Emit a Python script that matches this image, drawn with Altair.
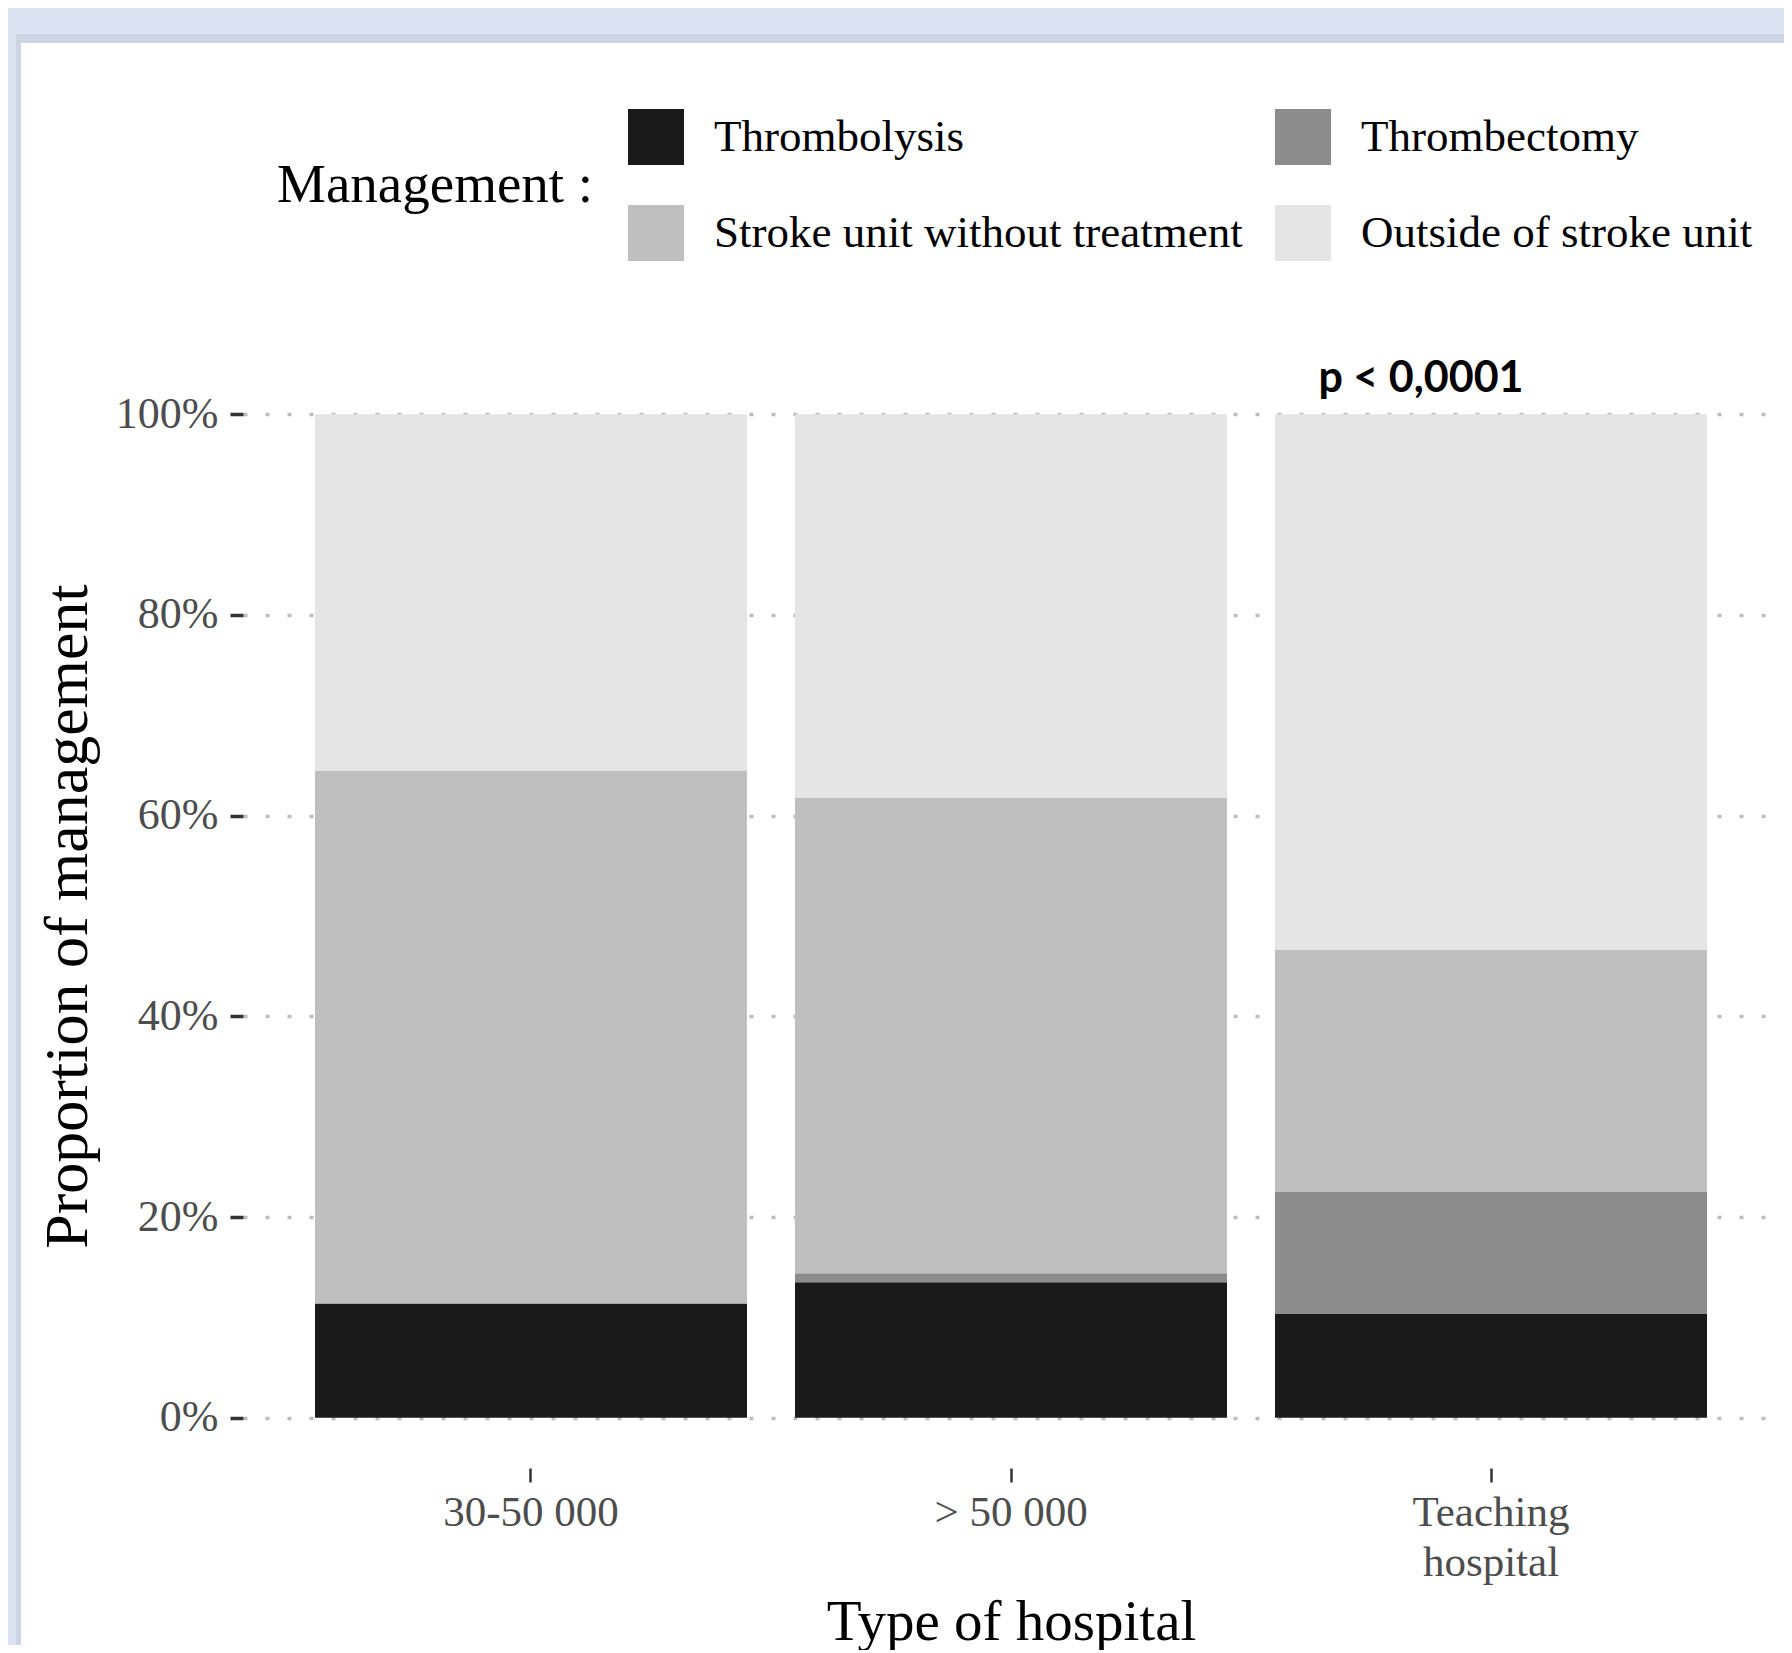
import altair as alt
import pandas as pd

# ---- data ----
hospitals = ["30-50 000", "> 50 000", "Teaching\nhospital"]
managements = ["Thrombolysis", "Thrombectomy", "Stroke unit without treatment", "Outside of stroke unit"]
colors = ["#1a1a1a", "#8c8c8c", "#bfbfbf", "#e5e5e5"]
thrombolysis = [0.114, 0.135, 0.104]
thrombectomy = [0.0, 0.009, 0.121]
stroke_unit = [0.531, 0.474, 0.241]
outside = [0.355, 0.382, 0.534]
y_ticks = [0, 0.2, 0.4, 0.6, 0.8, 1.0]
p_label = ["p < 0,0001"]

series = [thrombolysis, thrombectomy, stroke_unit, outside]
rows = []
for i, h in enumerate(hospitals):
    for k, m in enumerate(managements):
        rows.append({"hospital": h, "management": m, "ord": k, "value": series[k][i]})
df = pd.DataFrame(rows)

SERIF = "Liberation Serif"
W, H = 1536, 1104
BLUE = "#dbe3f2"
SHADOW = "#cdd5e5"

x_scale = alt.Scale(domain=hospitals, paddingInner=0.1, paddingOuter=0.15)
y_scale = alt.Scale(domain=[-0.05, 1.05], nice=False, zero=False)

bars = alt.Chart(df).mark_bar().encode(
    x=alt.X("hospital:N", scale=x_scale, sort=hospitals,
            axis=alt.Axis(title="Type of hospital", labelAngle=0,
                          labelExpr="split(datum.label, '\\n')",
                          labelFont=SERIF, labelFontSize=43, labelColor="#4d4d4d",
                          labelLineHeight=50, labelPadding=9, labelBaseline="top",
                          tickSize=14, tickWidth=2.5, tickColor="#333333",
                          domain=False, grid=False,
                          titleFont=SERIF, titleFontSize=57, titleFontWeight="normal",
                          titleColor="black", titleY=171, titleBaseline="alphabetic")),
    y=alt.Y("value:Q", stack="zero", scale=y_scale,
            axis=alt.Axis(values=y_ticks, format=".0%", title="Proportion of management",
                          grid=True, gridDash=[4, 18], gridColor="#bdbdbd", gridWidth=3.5,
                          tickSize=13, tickWidth=3.5, tickColor="#333333",
                          labelPadding=12, labelFont=SERIF, labelFontSize=44,
                          labelColor="#4d4d4d", domain=False,
                          titleFont=SERIF, titleFontSize=62, titleFontWeight="normal",
                          titleColor="black", titleX=-157, titleY=552, titleAngle=270,
                          titleAlign="center", titleBaseline="alphabetic")),
    color=alt.Color("management:N",
                    scale=alt.Scale(domain=managements, range=colors),
                    legend=alt.Legend(orient="none", legendX=34, legendY=-255,
                                      direction="horizontal", columns=2,
                                      title="Management :", titleOrient="left",
                                      titleAnchor="middle", titleBaseline="middle",
                                      titleFont=SERIF, titleFontSize=55, titleLimit=0,
                                      titleFontWeight="normal", titleColor="black",
                                      titlePadding=34,
                                      labelFont=SERIF, labelFontSize=45, labelColor="black",
                                      labelOffset=30, labelLimit=0,
                                      symbolType="square", symbolSize=3136,
                                      symbolStrokeWidth=0, symbolOpacity=1,
                                      rowPadding=40, columnPadding=32, padding=0)),
    order=alt.Order("ord:Q", sort="ascending"),
)

ptext = alt.Chart(pd.DataFrame({"hospital": [hospitals[2]], "label": p_label, "y": [1.0]})).mark_text(
    dx=-70, dy=-35, font="Lato", fontSize=43, fontWeight="bold", color="black",
    align="center", baseline="middle"
).encode(
    x=alt.X("hospital:N", scale=x_scale, sort=hospitals),
    y=alt.Y("y:Q", scale=y_scale),
    text="label:N",
)

# ---- decorative page frame (light-blue border of the slide) ----
def strip(x0, x1, y0, y1, fill):
    return alt.Chart(alt.Data(values=[{"a": 1}])).mark_rect(fill=fill, strokeWidth=0).encode(
        x=alt.value(x0), x2=alt.value(x1), y=alt.value(y0), y2=alt.value(y1)
    )

frame = (
    strip(-235, 1541, -356, -321, BLUE)
    + strip(-235, -222, -356, 1281, BLUE)
    + strip(-226, 1541, -330, -321, SHADOW)
    + strip(-227, -222, -330, 1281, SHADOW)
)

chart = alt.layer(frame, bars, ptext).properties(
    width=W, height=H, padding=0, background="white"
).configure_view(stroke=None)

chart.save("out.html", embed_options={"renderer": "svg", "actions": False})
